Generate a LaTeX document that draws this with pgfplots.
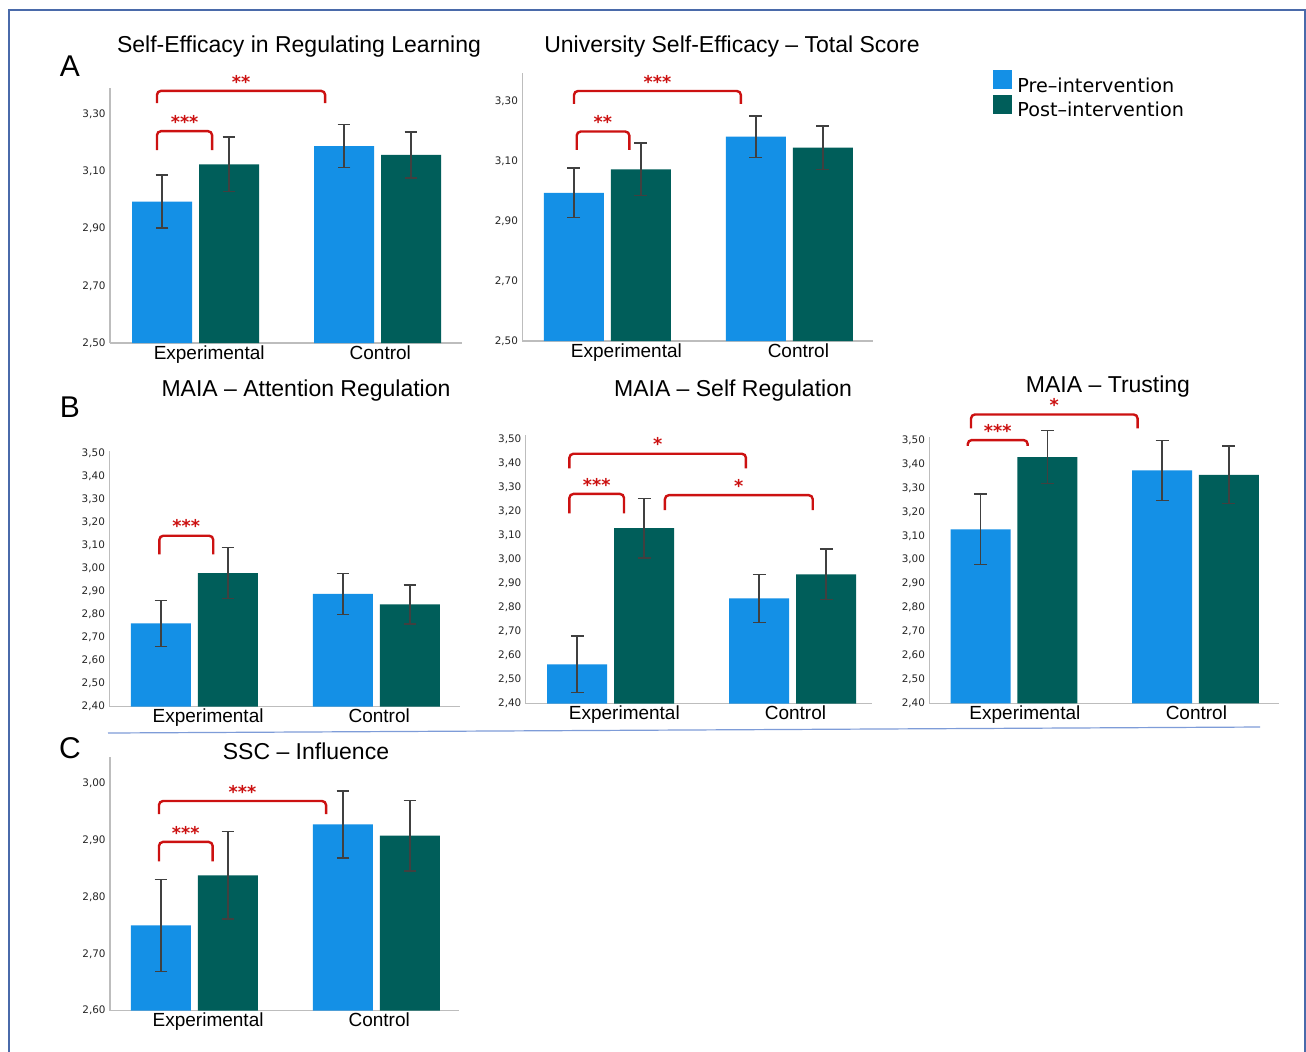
\documentclass[border=0pt]{standalone}
\usepackage{pgfplots}
\pgfplotsset{compat=1.18}
\usepackage{fontspec}
\setmainfont{Liberation Sans}
\newfontfamily\dejavu{DejaVu Sans}
\definecolor{preblue}{HTML}{1490E6}
\definecolor{postteal}{HTML}{005E5A}
\definecolor{brred}{HTML}{CC1111}
\definecolor{axisgray}{HTML}{BDBDBD}
\definecolor{frameblue}{HTML}{4A6AAA}
\definecolor{sepblue}{HTML}{7E9CD8}
\newcommand\tickfont{\dejavu\fontsize{5.2}{5.8}\selectfont}
\newcommand\xlabfont{\fontsize{9.5}{11}\selectfont}
\newcommand\titlefont{\fontsize{11.5}{13}\selectfont}
\newcommand\letterfont{\fontsize{15}{17}\selectfont}
\newcommand\starfont{\dejavu\bfseries\fontsize{8.8}{9}\selectfont}
\newcommand\legfont{\dejavu\fontsize{9.6}{11}\selectfont}
% bracket: x1, x2, xmid, ytop, ylow, stars
\newcommand\brk[6]{%
  \draw[brred, line width=1.2pt, rounded corners=2pt] (axis cs:#1,#5) -- (axis cs:#1,#4) -- (axis cs:#2,#4) -- (axis cs:#2,#5);
  \node[anchor=south, inner sep=0pt, yshift=1.2pt, text=brred, font=\starfont] at (axis cs:#3,#4) {#6};}
\pgfplotsset{
  panel/.style={
    scale only axis, ybar, bar width=30pt, bar shift=0pt,
    axis x line*=bottom, axis y line*=left,
    axis line style={draw=axisgray, line width=0.7pt, -},
    major tick length=0pt,
    xtick={0.075,1.015}, xticklabels={Experimental,Control},
    xticklabel style={font=\xlabfont, anchor=north, inner sep=0pt, yshift=-1pt},
    yticklabel style={font=\tickfont, text=black!85, anchor=east, inner sep=0pt, xshift=-2pt,
      /pgf/number format/.cd, use comma, fixed, fixed zerofill, precision=2, assume math mode=true},
    clip=false, anchor=south west,
  },
  errs/.style={
    error bars/.cd, y dir=both, y explicit,
    error bar style={line width=0.75pt, black!75},
    error mark options={rotate=90, mark size=3.2pt, line width=0.75pt, black!75},
  },
  pre/.style={fill=preblue, draw=none, errs},
  post/.style={fill=postteal, draw=none, errs},
}
\begin{document}
\begin{tikzpicture}
\begin{scope}[x=0.5pt,y=-0.5pt]
\useasboundingbox (0,0) rectangle (1306,1051);
\fill[white] (0,0) rectangle (1306,1051);
\draw[frameblue, line width=1pt] (9,1052) -- (9,10) -- (1305,10) -- (1305,1052);
\draw[sepblue, line width=0.6pt] (108,733) -- (1260,727);
\node[font=\titlefont] at (299,47) {Self-Efficacy in Regulating Learning};
\node[font=\letterfont] at (70,66) {A};
\node[font=\titlefont] at (732,47) {University Self-Efficacy – Total Score};
\node[font=\titlefont] at (306,391) {MAIA – Attention Regulation};
\node[font=\letterfont] at (70,407) {B};
\node[font=\titlefont] at (733,391) {MAIA – Self Regulation};
\node[font=\titlefont] at (1108,387) {MAIA – Trusting};
\node[font=\titlefont] at (306,751) {SSC – Influence};
\node[font=\letterfont] at (70,748) {C};
\end{scope}

% ---------- A1 ----------
\begin{axis}[panel, at={(55pt,-171.5pt)}, width=176pt, height=127.5pt,
  xmin=-0.470, xmax=1.464, ymin=2.5, ymax=3.392,
  ytick={2.5,2.7,2.9,3.1,3.3}]
\addplot[pre] coordinates {(-0.184,2.995) +- (0,0.092) (0.816,3.189) +- (0,0.075)};
\addplot[post] coordinates {(0.184,3.125) +- (0,0.095) (1.184,3.158) +- (0,0.080)};
\brk{-0.212}{0.091}{-0.060}{3.241}{3.175}{***}
\brk{-0.212}{0.712}{0.250}{3.382}{3.339}{**}
\end{axis}

% ---------- A2 ----------
\begin{axis}[panel, at={(261.15pt,-170.5pt)}, width=175.35pt, height=133.85pt,
  xmin=-0.467, xmax=1.460, ymin=2.5, ymax=3.392,
  ytick={2.5,2.7,2.9,3.1,3.3}, xtick={0.105,1.05},
  legend style={at={(1.342,1.0)}, anchor=north west, yshift=2pt, draw=none, fill=none,
    inner sep=0pt, font=\legfont, row sep=-0.7pt, cells={anchor=west},
    nodes={inner sep=0.5pt},
    /tikz/every odd column/.style={column sep=2pt}},
  legend image code/.code={\fill[#1] (0pt,-1.25pt) rectangle (9.5pt,8.25pt);}]
\addplot[pre] coordinates {(-0.184,2.994) +- (0,0.083) (0.816,3.181) +- (0,0.069)};
\addplot[post] coordinates {(0.184,3.072) +- (0,0.087) (1.184,3.144) +- (0,0.073)};
\legend{Pre–intervention, Post–intervention}
\brk{-0.168}{0.121}{-0.024}{3.198}{3.137}{**}
\brk{-0.183}{0.734}{0.276}{3.333}{3.290}{***}
\end{axis}

% ---------- B1 ----------
\begin{axis}[panel, at={(54.65pt,-353.35pt)}, width=175.35pt, height=128pt,
  xmin=-0.468, xmax=1.459, ymin=2.4, ymax=3.511,
  ytick={2.4,2.5,2.6,2.7,2.8,2.9,3.0,3.1,3.2,3.3,3.4,3.5}]
\addplot[pre] coordinates {(-0.184,2.762) +- (0,0.100) (0.816,2.890) +- (0,0.089)};
\addplot[post] coordinates {(0.184,2.980) +- (0,0.110) (1.184,2.844) +- (0,0.085)};
\brk{-0.193}{0.103}{-0.045}{3.142}{3.061}{***}
\end{axis}

% ---------- B2 ----------
\begin{axis}[panel, at={(262.85pt,-351.85pt)}, width=173pt, height=134.35pt,
  xmin=-0.467, xmax=1.434, ymin=2.4, ymax=3.517,
  ytick={2.4,2.5,2.6,2.7,2.8,2.9,3.0,3.1,3.2,3.3,3.4,3.5}]
\addplot[pre] coordinates {(-0.184,2.564) +- (0,0.117) (0.816,2.838) +- (0,0.100)};
\addplot[post] coordinates {(0.184,3.130) +- (0,0.124) (1.184,2.938) +- (0,0.105)};
\brk{-0.227}{0.073}{-0.077}{3.272}{3.191}{***}
\brk{-0.227}{0.743}{0.258}{3.439}{3.378}{*}
\brk{0.298}{1.110}{0.704}{3.267}{3.205}{*}
\end{axis}

% ---------- B3 ----------
\begin{axis}[panel, at={(464.65pt,-351.65pt)}, width=175pt, height=133.3pt,
  xmin=-0.467, xmax=1.462, ymin=2.4, ymax=3.514,
  ytick={2.4,2.5,2.6,2.7,2.8,2.9,3.0,3.1,3.2,3.3,3.4,3.5}, xtick={0.06,1.005}]
\addplot[pre] coordinates {(-0.184,3.127) +- (0,0.148) (0.816,3.373) +- (0,0.125)};
\addplot[post] coordinates {(0.184,3.429) +- (0,0.110) (1.184,3.355) +- (0,0.120)};
\brk{-0.255}{0.075}{-0.090}{3.500}{3.476}{***}
\brk{-0.237}{0.681}{0.222}{3.607}{3.549}{*}
\end{axis}

% ---------- C ----------
\begin{axis}[panel, at={(55pt,-505.35pt)}, width=174.65pt, height=127pt,
  xmin=-0.464, xmax=1.455, ymin=2.6, ymax=3.047,
  ytick={2.6,2.7,2.8,2.9,3.0}]
\addplot[pre] coordinates {(-0.184,2.750) +- (0,0.081) (0.816,2.928) +- (0,0.059)};
\addplot[post] coordinates {(0.184,2.838) +- (0,0.077) (1.184,2.908) +- (0,0.062)};
\brk{-0.195}{0.100}{-0.048}{2.897}{2.863}{***}
\brk{-0.195}{0.723}{0.264}{2.969}{2.946}{***}
\end{axis}
\end{tikzpicture}
\end{document}
